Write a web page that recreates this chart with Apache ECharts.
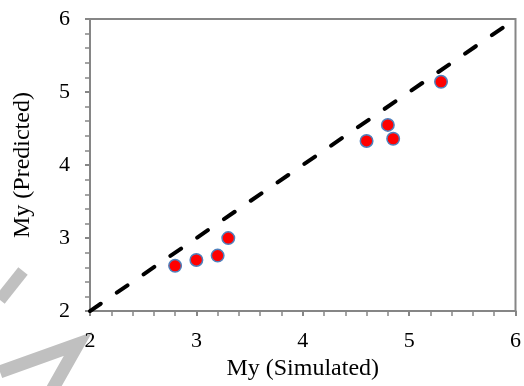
<!DOCTYPE html>
<html>
<head>
<meta charset="utf-8">
<script src="https://cdn.jsdelivr.net/npm/echarts@6/dist/echarts.min.js"></script>
<style>
  html, body { margin: 0; padding: 0; background: #fff; }
  #chart { width: 524px; height: 386px; }
</style>
</head>
<body>
<div id="chart"></div>
<script>
// simulated vs predicted My
const simulated = [2.8, 3.0, 3.2, 3.3, 4.6, 4.8, 4.85, 5.3];
const predicted = [2.62, 2.7, 2.76, 3.0, 4.33, 4.55, 4.36, 5.14];
// 1:1 reference line
const refX = [2, 5.9];
const refY = [2, 5.9];
const xTicks = [2, 3, 4, 5, 6];
const yTicks = [2, 3, 4, 5, 6];

const font = 'Liberation Serif';
const axisGray = '#868686';

const myChart = echarts.init(document.getElementById('chart'));

const axisBase = (ticks, name, gap, margin) => ({
  type: 'value',
  min: ticks[0],
  max: ticks[ticks.length - 1],
  interval: ticks[1] - ticks[0],
  name: name,
  nameLocation: 'middle',
  nameGap: gap,
  nameTextStyle: {fontFamily: font, fontSize: 24, color: '#000'},
  axisLine: {show: true, lineStyle: {color: axisGray, width: 2}},
  axisTick: {show: true, inside: false, length: 5, lineStyle: {color: axisGray, width: 2}},
  minorTick: {show: true, splitNumber: 5, length: 5, lineStyle: {color: axisGray, width: 1.5}},
  splitLine: {show: false},
  axisLabel: {fontFamily: font, fontSize: 22, color: '#000', margin: margin}
});

myChart.setOption({
  animation: false,
  backgroundColor: '#fff',
  grid: {
    left: 90, right: 7, top: 19, bottom: 70,
    show: true, borderColor: axisGray, borderWidth: 2
  },
  xAxis: axisBase(xTicks, 'My (Simulated)', 42, 19),
  yAxis: axisBase(yTicks, 'My (Predicted)', 55, 20),
  graphic: [
    {type: 'polyline', z: -1, shape: {points: [[0, 300], [23, 271]]},
      style: {stroke: '#c0c0c0', lineWidth: 12, fill: null}},
    {type: 'polyline', z: -1, shape: {points: [[0, 372], [78, 344], [52, 390]]},
      style: {stroke: '#c0c0c0', lineWidth: 13, fill: null, lineJoin: 'miter'}}
  ],
  series: [
    {
      type: 'line',
      data: refX.map((x, i) => [x, refY[i]]),
      symbol: 'none',
      lineStyle: {color: '#000', width: 4, type: [13, 19.5], cap: 'round'},
      z: 2
    },
    {
      type: 'scatter',
      data: simulated.map((x, i) => [x, predicted[i]]),
      symbol: 'circle',
      symbolSize: 12.5,
      itemStyle: {color: '#ff0000', borderColor: '#4f81bd', borderWidth: 1.5, opacity: 1},
      z: 3
    }
  ]
});
</script>
</body>
</html>
